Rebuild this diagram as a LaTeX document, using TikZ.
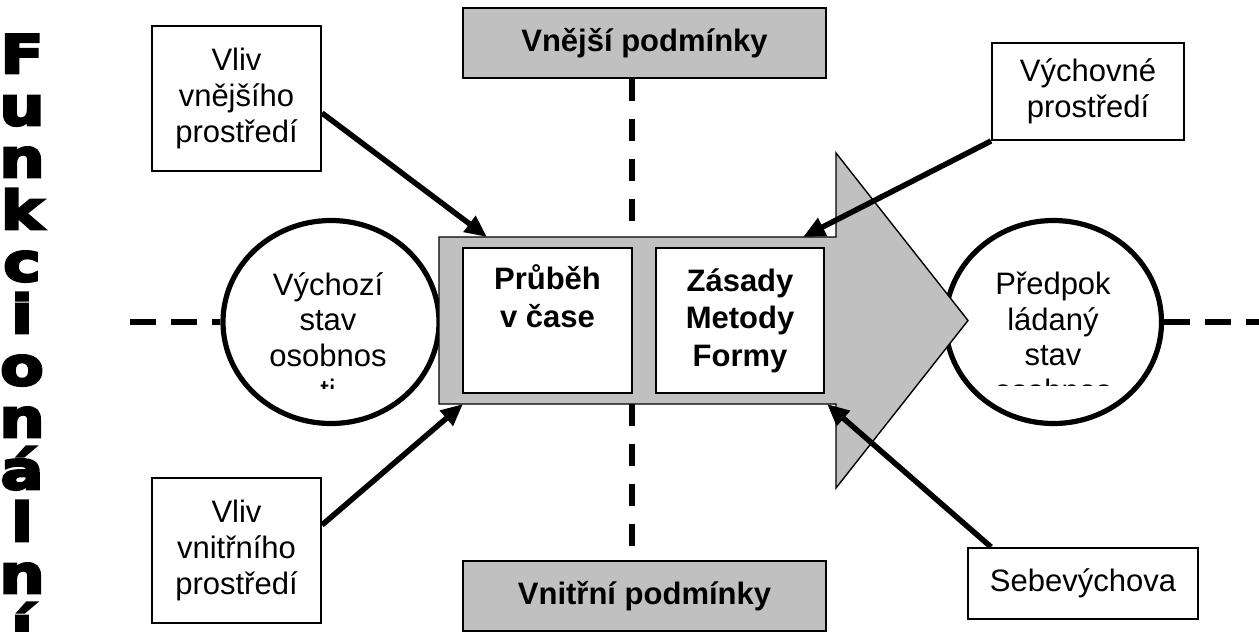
\documentclass[tikz,border=0pt]{standalone}
\usepackage{fontspec}
\setmainfont{Liberation Sans}
\newfontfamily\heavyfont{DejaVu Sans}[FakeStretch=1.2,FakeBold=5]
\usetikzlibrary{shapes.geometric,arrows.meta}
\definecolor{boxgray}{RGB}{192,192,192}
\begin{document}
\begin{tikzpicture}[x=0.5pt,y=-0.5pt,
  lbl/.style={draw=black, line width=1pt, fill=white, inner sep=0pt, align=center,
    font=\fontsize{15.5pt}{18pt}\selectfont},
  gbox/.style={lbl, fill=boxgray, font=\fontsize{15.5pt}{18.5pt}\selectfont\bfseries},
  ibox/.style={lbl, font=\fontsize{15.5pt}{18.75pt}\selectfont\bfseries},
  circ/.style={ellipse, draw=black, line width=2.6pt, fill=white,
    minimum width=108pt, minimum height=101.5pt, inner sep=0pt},
  ctext/.style={align=center, inner sep=0pt, anchor=base,
    font=\fontsize{15.5pt}{17.75pt}\selectfont},
  dline/.style={line width=2.75pt, dash pattern=on 11pt off 9pt},
  hline/.style={line width=2.75pt, dash pattern=on 13pt off 7.5pt},
  infl/.style={line width=2.75pt, -{Triangle[length=11pt,width=9.5pt]}},
  bigarrow/.style={draw=black, line width=0.7pt, fill=boxgray}
]
\useasboundingbox (0,0) rectangle (1259,632);

% circles
\node[circ] (lc) at (331,322) {};
\node[circ] (rc) at (1053.5,322) {};
\begin{scope}
  \clip (223,215) rectangle (440,388);
  % base anchor = baseline of the last line
  \node[ctext] (lct) at (328,401.5) {Výchozí\\stav\\osobnos\\ti};
\end{scope}
\begin{scope}
  \clip (945,215) rectangle (1162,385.5);
  \node[ctext] (rct) at (1053,401) {Předpok\\ládaný\\stav\\osobnos};
\end{scope}

% big arrow
\coordinate (bNW) at (439,237);
\coordinate (bNE) at (836,237);
\coordinate (hT) at (836,153);
\coordinate (tip) at (968,320.5);
\coordinate (hB) at (836,488);
\coordinate (bSE) at (836,404);
\coordinate (bSW) at (439,404);
\draw[bigarrow] (bNW) -- (bNE) -- (hT) -- (tip) -- (hB) -- (bSE) -- (bSW) -- cycle;

\node[ibox, minimum width=84.5pt, minimum height=72.5pt] (pr) at (547.5,320.5) {Průběh\\v čase\\\strut};
\node[ibox, minimum width=84pt, minimum height=72.5pt] (zas) at (740,320.5) {Zásady\\Metody\\Formy};

% boxes
\node[gbox, minimum width=181.5pt, minimum height=35pt] (vnejsi) at (644.5,43) {Vnější podmínky};
\node[gbox, minimum width=181.5pt, minimum height=35pt] (vnitrni) at (644.5,596) {Vnitřní podmínky};
\node[lbl, minimum width=84.5pt, minimum height=72.5pt] (vvnej) at (236.5,98.5) {Vliv\\vnějšího\\prostředí\rule[-3pt]{0pt}{3pt}};
\node[lbl, minimum width=84.5pt, minimum height=72.5pt] (vvnit) at (236.5,550.5) {Vliv\\vnitřního\\prostředí\rule[-3pt]{0pt}{3pt}};
\node[lbl, minimum width=96pt, minimum height=48.5pt] (vych) at (1088,91.5) {Výchovné\\prostředí\rule[-3pt]{0pt}{3pt}};
\node[lbl, minimum width=115pt, minimum height=35.5pt] (sebe) at (1083,583.5) {Sebevýchova};

% dashed lines
\coordinate (vx) at (632,0);
\coordinate (hl) at (130,322);
\coordinate (hr) at (1259,322);
\draw[dline] (vnejsi.south -| vx) -- (bNW -| vx);
\draw[dline] (bSW -| vx) -- (vnitrni.north -| vx);
\draw[hline] (hl) -- (lc.west);
\draw[hline] (rc.east) -- (hr);

% influence arrows
\draw[infl] ([yshift=-7.25pt]vvnej.east) -- ([xshift=24pt]bNW);
\draw[infl] ([yshift=12.75pt]vvnit.east) -- ([xshift=12pt]bSW);
\draw[infl] (vych.south west) -- ([xshift=-16.5pt]bNE);
\draw[infl] ([xshift=12pt]sebe.north west) -- ([xshift=-4.5pt]bSE);

% vertical title (base = baseline of last line)
\node[anchor=base, align=center, inner sep=0pt,
  font=\heavyfont\bfseries\fontsize{26.5pt}{26pt}\selectfont] (fun) at (22,645)
  {F\\u\\n\\k\\c\\i\\o\\n\\á\\l\\n\\í};
\end{tikzpicture}
\end{document}
